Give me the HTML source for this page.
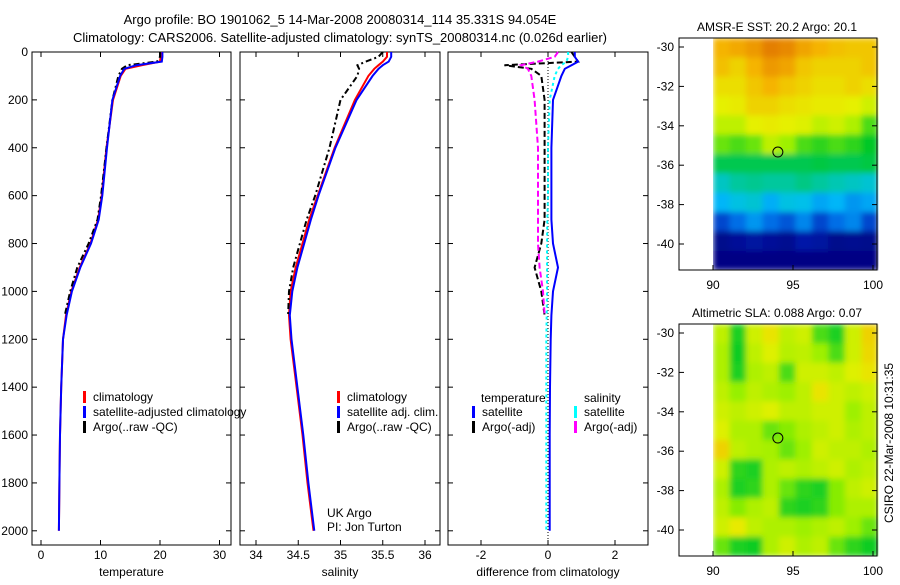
<!DOCTYPE html>
<html><head><meta charset="utf-8"><style>
body{margin:0;background:#fff;}
svg{font-family:"Liberation Sans",sans-serif;font-size:12px;}
</style></head><body>
<svg id="c" width="900" height="580">
<defs><filter id="bl" x="0" y="0" width="1" height="1"><feGaussianBlur stdDeviation="3" edgeMode="duplicate"/></filter></defs>
<text x="340" y="24" text-anchor="middle" font-size="13">Argo profile: BO 1901062_5 14-Mar-2008 20080314_114 35.331S 94.054E</text>
<text x="340" y="42" text-anchor="middle" font-size="13">Climatology: CARS2006. Satellite-adjusted climatology: synTS_20080314.nc (0.026d earlier)</text>
</svg>
<script>
const depth=[0,20,40,55,70,100,200,400,600,700,800,900,1000,1100,1200,1400,1600,1800,2000];
const tempClim=[20.1,20.1,20.0,17,14.2,13.4,12.1,11.0,10.2,9.6,8.3,6.5,5.1,4.2,3.7,3.4,3.2,3.1,3.0];
const tempSat=[20.4,20.4,20.3,16,14.0,13.3,12.0,11.1,10.3,9.7,8.4,6.6,5.2,4.3,3.7,3.4,3.2,3.1,3.0];
const tempArgo=[20.0,20.0,19.5,14.5,13.6,13.0,12.0,11.0,10.1,9.5,8.0,6.1,4.9,4.0];
const salClim=[35.55,35.55,35.5,35.45,35.4,35.33,35.17,34.93,34.73,34.63,34.55,34.47,34.41,34.39,34.41,34.48,34.55,34.61,34.68];
const salSat=[35.6,35.6,35.57,35.5,35.45,35.38,35.19,34.94,34.74,34.65,34.57,34.49,34.43,34.4,34.42,34.49,34.56,34.62,34.69];
const salArgo=[35.5,35.45,35.3,35.2,35.22,35.2,35.0,34.87,34.7,34.6,34.52,34.44,34.39,34.38];
const dTempSat=[0.8,0.8,0.9,0.7,0.5,0.4,0.15,0.1,0.1,0.1,0.15,0.3,0.15,0.1,0.08,0.06,0.05,0.05,0.05];
const dSalSat=[0.6,0.6,0.55,0.4,0.3,0.2,0.05,0.0,0.0,-0.02,-0.03,-0.03,-0.03,-0.04,-0.05,-0.05,-0.05,-0.05,-0.05];
const dTempArgo=[0.7,0.8,0.9,-1.3,-0.5,-0.2,-0.1,-0.1,-0.1,-0.1,-0.2,-0.4,-0.2,-0.1];
const dSalArgo=[0.3,0.2,-0.3,-0.8,-0.6,-0.5,-0.4,-0.3,-0.3,-0.3,-0.3,-0.25,-0.15,-0.1];
const sstGrid=[
[0.85,0.87,0.9,0.95,0.93,0.88,0.85,0.83,0.82,0.82],
[0.83,0.8,0.85,0.9,0.88,0.82,0.8,0.8,0.8,0.82],
[0.78,0.78,0.82,0.85,0.82,0.8,0.78,0.78,0.8,0.78],
[0.75,0.76,0.8,0.8,0.78,0.77,0.76,0.76,0.75,0.72],
[0.7,0.7,0.75,0.76,0.75,0.74,0.7,0.72,0.68,0.6],
[0.62,0.6,0.62,0.7,0.66,0.6,0.58,0.6,0.58,0.55],
[0.52,0.52,0.52,0.52,0.52,0.52,0.53,0.52,0.52,0.53],
[0.42,0.46,0.47,0.46,0.46,0.48,0.46,0.44,0.42,0.4],
[0.34,0.38,0.4,0.33,0.38,0.37,0.32,0.34,0.3,0.32],
[0.2,0.25,0.3,0.25,0.22,0.28,0.2,0.25,0.28,0.2],
[0.05,0.08,0.1,0.08,0.06,0.12,0.1,0.05,0.06,0.05],
[0.03,0.03,0.03,0.03,0.03,0.03,0.03,0.03,0.03,0.03]];
const slaGrid=[
[0.7,0.57,0.72,0.77,0.7,0.72,0.6,0.57,0.72,0.8],
[0.68,0.56,0.7,0.74,0.69,0.7,0.66,0.6,0.72,0.79],
[0.68,0.57,0.68,0.7,0.6,0.72,0.72,0.7,0.74,0.77],
[0.7,0.65,0.7,0.68,0.66,0.7,0.77,0.72,0.7,0.72],
[0.72,0.7,0.72,0.74,0.7,0.7,0.72,0.72,0.66,0.7],
[0.74,0.68,0.68,0.62,0.64,0.68,0.7,0.72,0.68,0.7],
[0.8,0.7,0.68,0.67,0.62,0.66,0.72,0.7,0.7,0.68],
[0.72,0.58,0.57,0.68,0.7,0.68,0.7,0.72,0.68,0.7],
[0.68,0.57,0.58,0.68,0.62,0.58,0.57,0.64,0.7,0.72],
[0.7,0.64,0.68,0.7,0.58,0.57,0.58,0.64,0.68,0.68],
[0.72,0.76,0.7,0.68,0.68,0.66,0.68,0.7,0.66,0.62],
[0.62,0.57,0.56,0.68,0.72,0.68,0.7,0.62,0.58,0.56]];
const tempTicks=[0,10,20,30], salTicks=[34,34.5,35,35.5,36], diffTicks=[-2,0,2];
const depthTicks=[0,200,400,600,800,1000,1200,1400,1600,1800,2000];
const lonTicks=[90,95,100], latTicks=[-30,-32,-34,-36,-38,-40];

const NS='http://www.w3.org/2000/svg', svg=document.getElementById('c');
function el(t,a,p){const e=document.createElementNS(NS,t);for(const k in a)e.setAttribute(k,a[k]);(p||svg).appendChild(e);return e;}
function txt(x,y,s,anchor,p){const t=el('text',{x:x,y:y,'text-anchor':anchor||'middle'},p);t.textContent=s;return t;}
const yD=d=>52+d*0.2394;
function panel(name,x0,x1,sx,ticks,label){
  const g=el('g',{});
  
  
  el('rect',{x:x0,y:52,width:x1-x0,height:493,fill:'none',stroke:'#000'},g);
  ticks.forEach(v=>{const x=sx(v);el('line',{x1:x,x2:x,y1:545,y2:540,stroke:'#000'},g);el('line',{x1:x,x2:x,y1:52,y2:57,stroke:'#000'},g);txt(x,559,String(v),'middle',g);});
  depthTicks.forEach(d=>{const y=yD(d);el('line',{x1:x0,x2:x0+5,y1:y,y2:y,stroke:'#000'},g);el('line',{x1:x1,x2:x1-5,y1:y,y2:y,stroke:'#000'},g);if(x0<40)txt(x0-4,y+4,String(d),'end',g);});
  txt((x0+x1)/2,576,label,'middle',g);
  return g;
}
function line(g,name,vals,sx,color,dash,w){
  const p=vals.map((v,i)=>(i?'L':'M')+sx(v).toFixed(1)+','+yD(depth[i]).toFixed(1)).join('');
  const e=el('path',{d:p,fill:'none',stroke:color,'stroke-width':w||2,'stroke-dasharray':dash||'none'},g);
  
  
}
function legend(g,x,y,items){items.forEach((it,i)=>{el('rect',{x:x,y:y+i*15-10,width:3,height:12,fill:it[1]},g);txt(x+10,y+i*15,it[0],'start',g);});}

const sT=v=>41+v*5.95;
const g1=panel('temperature-panel',32,231,sT,tempTicks,'temperature');
line(g1,'temp-climatology-line',tempClim,sT,'#f00');
line(g1,'temp-argo-line',tempArgo,sT,'#000','6,3,2,3');
line(g1,'temp-satellite-line',tempSat,sT,'#00f');
legend(g1,83,401,[['climatology','#f00'],['satellite-adjusted climatology','#00f'],['Argo(..raw -QC)','#000']]);

const sS=v=>256+(v-34)*84.5;
const g2=panel('salinity-panel',240,440,sS,salTicks,'salinity');
line(g2,'sal-climatology-line',salClim,sS,'#f00');
line(g2,'sal-argo-line',salArgo,sS,'#000','6,3,2,3');
line(g2,'sal-satellite-line',salSat,sS,'#00f');
legend(g2,337,401,[['climatology','#f00'],['satellite adj. clim.','#00f'],['Argo(..raw -QC)','#000']]);
txt(327,517,'UK Argo','start',g2);txt(327,531,'PI: Jon Turton','start',g2);

const sD=v=>548+v*33.5;
const g3=panel('difference-panel',448,648,sD,diffTicks,'difference from climatology');
el('line',{x1:sD(0),x2:sD(0),y1:52,y2:545,stroke:'#000','stroke-dasharray':'1,2'},g3);
line(g3,'dtemp-argo-line',dTempArgo,sD,'#000','6,3');
line(g3,'dsal-argo-line',dSalArgo,sD,'#f0f','6,3');
line(g3,'dsal-satellite-line',dSalSat,sD,'#0ff',3);
line(g3,'dtemp-satellite-line',dTempSat,sD,'#00f');
txt(481,402,'temperature','start',g3);txt(584,402,'salinity','start',g3);
legend(g3,472,416,[['satellite','#00f'],['Argo(-adj)','#000']]);
legend(g3,574,416,[['satellite','#0ff'],['Argo(-adj)','#f0f']]);

const cStops=[[0,[0,0,120]],[0.15,[0,30,180]],[0.25,[0,110,230]],[0.35,[0,190,250]],[0.45,[0,200,170]],[0.55,[0,200,40]],[0.65,[150,240,0]],[0.75,[230,240,0]],[0.85,[245,180,0]],[1,[220,100,0]]];
function cmap(v){for(let i=1;i<cStops.length;i++){if(v<=cStops[i][0]||i==cStops.length-1){const a=cStops[i-1],b=cStops[i],t=Math.max(0,Math.min(1,(v-a[0])/(b[0]-a[0])));
  return 'rgb('+a[1].map((c,k)=>Math.round(c+(b[1][k]-c)*t)).join(',')+')';}}}
function map(name,top,title,grid){
  const g=el('g',{});
  
  
  const lx=v=>713+(v-90)*16.0, ly=v=>top+9+(-30-v)*19.7;
  txt(777,top-7,title,'middle',g);
  const cw=(lx(100.3)-lx(90))/10, ch=232/grid.length;
  const hg=el('g',{filter:'url(#bl)'},g);
  grid.forEach((row,r)=>row.forEach((v,c)=>{const e=el('rect',{x:lx(90)+c*cw,y:top+r*ch,width:cw+0.5,height:ch+0.5,fill:cmap(v)},hg);
    
    }));
  el('rect',{x:679,y:top,width:198,height:232,fill:'none',stroke:'#000'},g);
  lonTicks.forEach(v=>{const x=lx(v);el('line',{x1:x,x2:x,y1:top+232,y2:top+227,stroke:'#000'},g);txt(x,top+251,String(v),'middle',g);});
  latTicks.forEach(v=>{const y=ly(v);el('line',{x1:679,x2:684,y1:y,y2:y,stroke:'#000'},g);el('line',{x1:877,x2:872,y1:y,y2:y,stroke:'#000'},g);txt(674,y+4,String(v),'end',g);});
  const o=el('circle',{cx:lx(94.054),cy:ly(-35.331),r:5,fill:'none',stroke:'#000'},g);
  
  
}
map('sst-map',38,'AMSR-E SST: 20.2 Argo: 20.1',sstGrid);
map('sla-map',324,'Altimetric SLA: 0.088 Argo: 0.07',slaGrid);
const st=txt(0,0,'CSIRO 22-Mar-2008 10:31:35','middle');
st.setAttribute('transform','translate(893,443) rotate(-90)');


</script>
</body></html>
